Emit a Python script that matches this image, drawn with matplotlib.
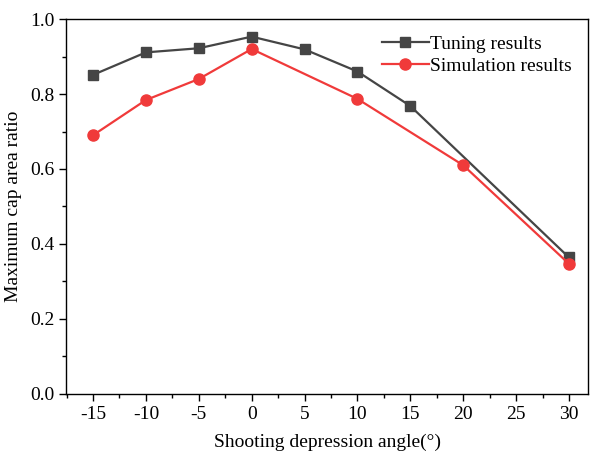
import matplotlib
matplotlib.use("Agg")
import matplotlib.pyplot as plt
from matplotlib.ticker import MultipleLocator

# x categories (evenly spaced on the axis)
angles = ["-15", "-10", "-5", "0", "5", "10", "15", "20", "25", "30"]

# Tuning results
tuning_angles = ["-15", "-10", "-5", "0", "5", "10", "15", "30"]
tuning_values = [0.851, 0.911, 0.922, 0.953, 0.919, 0.860, 0.768, 0.364]

# Simulation results
sim_angles = ["-15", "-10", "-5", "0", "10", "20", "30"]
sim_values = [0.690, 0.784, 0.840, 0.920, 0.787, 0.610, 0.347]

plt.rcParams["font.family"] = ["Liberation Serif", "DejaVu Serif"]

fig = plt.figure(figsize=(5.97, 4.57), dpi=100)
ax = fig.add_axes([0.1106, 0.1379, 0.8744, 0.8205])

tx = [angles.index(a) for a in tuning_angles]
sx = [angles.index(a) for a in sim_angles]

ax.plot(tx, tuning_values, color="#454545", lw=1.6, marker="s", ms=7.5,
        label="Tuning results")
ax.plot(sx, sim_values, color="#f03a3a", lw=1.6, marker="o", ms=8,
        label="Simulation results")

ax.set_xlim(-0.51, 9.36)
ax.set_ylim(0, 1.0)
ax.set_xticks(range(len(angles)))
ax.set_xticklabels(angles)
ax.xaxis.set_minor_locator(MultipleLocator(0.5))
ax.yaxis.set_major_locator(MultipleLocator(0.2))
ax.yaxis.set_minor_locator(MultipleLocator(0.1))
ax.yaxis.set_major_formatter(matplotlib.ticker.FormatStrFormatter("%.1f"))

ax.tick_params(which="both", direction="out", top=False, right=False,
               labelsize=14)
ax.tick_params(which="major", length=5, width=1)
ax.tick_params(which="minor", length=3, width=1)
for s in ax.spines.values():
    s.set_linewidth(1)

ax.set_xlabel("Shooting depression angle(°)", fontsize=14, labelpad=8)
ax.set_ylabel("Maximum cap area ratio", fontsize=14, labelpad=6)

ax.legend(loc="upper right", frameon=False, fontsize=14, handlelength=2.4,
          handletextpad=0.05, borderaxespad=0.45, labelspacing=0.2)

fig.savefig("out.png", dpi=100)
